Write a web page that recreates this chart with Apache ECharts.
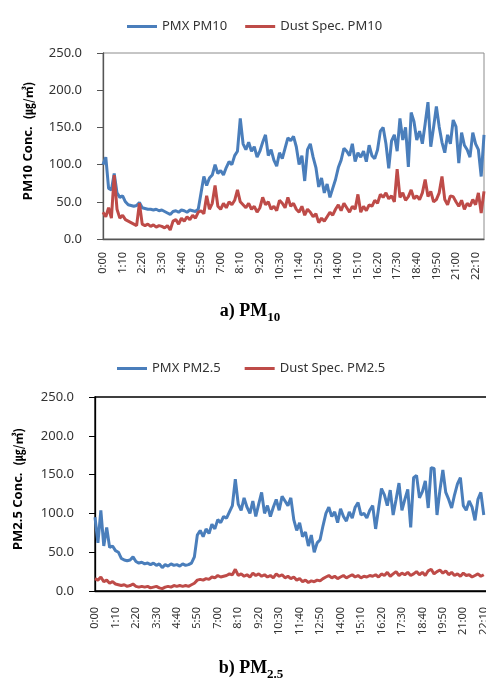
<!DOCTYPE html>
<html>
<head>
<meta charset="utf-8">
<script src="https://cdn.jsdelivr.net/npm/echarts@6/dist/echarts.min.js"></script>
<style>
  html, body { margin: 0; padding: 0; background: #fff; }
  #chart { width: 486px; height: 678px; }
</style>
</head>
<body>
<div id="chart"></div>
<script>
// 10-minute samples
const pmxPM10 = [
  100, 110, 68, 66, 88, 62, 56, 58, 50, 46, 45, 44, 45, 49, 42, 41, 40, 40, 39, 40,
  38, 39, 37, 35, 33, 37, 38, 36, 39, 38, 36, 39, 38, 37, 40, 62, 84, 72, 82, 86,
  100, 88, 92, 86, 96, 104, 100, 112, 118, 162, 128, 120, 130, 118, 124, 110, 118, 130, 140, 112,
  120, 106, 98, 116, 108, 122, 136, 132, 138, 124, 100, 112, 78, 120, 128, 110, 96, 70, 82, 62,
  74, 56, 68, 80, 96, 106, 122, 118, 112, 128, 104, 116, 110, 118, 104, 126, 112, 108, 120, 145,
  150, 128, 95, 132, 140, 118, 162, 133, 150, 97, 170, 158, 133, 145, 128, 155, 184, 124, 150, 178,
  151, 130, 116, 140, 128, 160, 151, 102, 143, 126, 120, 110, 143, 128, 120, 84, 140
];
const dustPM10 = [
  36, 30, 42, 28, 86, 40, 28, 32, 26, 24, 22, 20, 18, 48, 20, 18, 20, 17, 19, 16,
  18, 17, 15, 18, 12, 24, 26, 20, 28, 24, 30, 26, 32, 28, 36, 38, 34, 58, 40, 48,
  72, 44, 40, 48, 42, 50, 46, 52, 66, 50, 46, 42, 48, 40, 44, 36, 42, 56, 46, 50,
  40, 44, 38, 52, 48, 42, 56, 44, 48, 40, 36, 44, 32, 40, 36, 30, 34, 22, 28, 24,
  30, 36, 32, 40, 46, 38, 48, 42, 36, 44, 40, 60, 36, 44, 38, 46, 44, 52, 48, 60,
  56, 62, 54, 58, 50, 94, 56, 62, 52, 57, 66, 54, 58, 53, 62, 80, 57, 64, 50, 53,
  62, 84, 53, 46, 58, 57, 50, 44, 52, 40, 48, 44, 53, 46, 62, 35, 64
];
const pmxPM25 = [
  95, 62, 104, 58, 82, 56, 58, 52, 50, 42, 40, 39, 40, 44, 38, 36, 37, 35, 36, 34,
  36, 33, 35, 30, 34, 32, 35, 33, 34, 32, 35, 33, 34, 36, 44, 72, 78, 70, 80, 74,
  86, 80, 92, 88, 96, 94, 102, 110, 144, 112, 104, 120, 108, 100, 116, 96, 112, 127, 100, 110,
  96, 108, 118, 104, 122, 116, 110, 120, 92, 78, 88, 70, 76, 58, 72, 50, 62, 66, 84, 100,
  108, 96, 102, 88, 106, 96, 90, 102, 94, 108, 114, 98, 100, 94, 104, 110, 80, 106, 132, 124,
  110, 130, 98, 118, 139, 104, 118, 131, 82, 146, 149, 120, 128, 142, 107, 159, 158, 98, 130, 156,
  127, 118, 107, 124, 138, 146, 110, 104, 116, 108, 91, 118, 127, 98
];
const dustPM25 = [
  16, 14, 18, 12, 14, 10, 12, 9, 8, 7, 8, 6, 7, 9, 6, 5, 6, 5, 6, 4,
  5, 6, 4, 3, 5, 6, 5, 7, 6, 7, 6, 7, 6, 8, 10, 14, 15, 14, 16, 15,
  18, 17, 20, 18, 19, 20, 22, 21, 28, 20, 22, 19, 21, 18, 23, 20, 22, 19, 21, 18,
  20, 17, 22, 19, 21, 17, 19, 16, 18, 14, 16, 12, 14, 11, 13, 12, 14, 13, 16, 18,
  20, 17, 19, 16, 18, 20, 17, 19, 21, 18, 20, 17, 19, 18, 20, 19, 21, 18, 22, 20,
  24, 19, 22, 25, 20, 23, 21, 24, 20, 22, 25, 21, 24, 20, 26, 28, 22, 25, 27, 23,
  26, 21, 24, 20, 22, 19, 23, 20, 21, 18, 20, 22, 19, 21
];

// axis: 10-minute steps from 0:00
function makeTimes(n) {
  const out = [];
  for (let i = 0; i < n; i++) {
    const m = i * 10;
    out.push(Math.floor(m / 60) + ':' + String(m % 60).padStart(2, '0'));
  }
  return out;
}
const timesA = makeTimes(137);
const timesB = makeTimes(144);

const BLUE = '#4A7EBB';
const RED = '#BE4B48';
const FONT = '"Noto Sans", "Noto Sans CJK KR", sans-serif';
const CJK = '"Noto Sans CJK KR", sans-serif';

function yAxisOpt(gridIndex, lineColor) {
  return {
    type: 'value', gridIndex: gridIndex, min: 0, max: 250, interval: 50,
    axisLine: { show: true, lineStyle: { color: lineColor, width: 1.3 } },
    axisTick: { show: true, inside: false, length: 6, lineStyle: { color: lineColor } },
    splitLine: { show: false },
    axisLabel: {
      margin: 21, color: '#333', fontSize: 13, fontFamily: FONT,
      formatter: v => v.toFixed(1)
    }
  };
}
function xAxisOpt(gridIndex, data, lineColor, margin) {
  return {
    type: 'category', gridIndex: gridIndex, data: data, boundaryGap: false,
    axisLine: { show: true, lineStyle: { color: lineColor, width: 1.3 } },
    axisTick: { show: false },
    axisLabel: {
      interval: 6, rotate: 90, margin: margin, color: '#333',
      fontSize: 11, fontFamily: FONT
    }
  };
}
function yTitle(x, y, main, color) {
  return {
    type: 'text', x: x, y: y, rotation: Math.PI / 2,
    style: {
      text: '{a|' + main + '}{b|(㎍/㎥)}', align: 'center', verticalAlign: 'middle',
      rich: {
        a: { fontFamily: FONT, fontWeight: 'bold', fontSize: 13, color: color },
        b: { fontFamily: CJK, fontWeight: 'bold', fontSize: 12, color: color }
      }
    }
  };
}
function caption(x, y, main, sub) {
  return {
    type: 'text', x: x, y: y,
    style: {
      text: '{m|' + main + '}{s|' + sub + '}', align: 'center', verticalAlign: 'middle',
      rich: {
        m: { fontFamily: '"Liberation Serif", serif', fontWeight: 'bold', fontSize: 18, color: '#000',
             verticalAlign: 'bottom', padding: [0, 0, 4, 0] },
        s: { fontFamily: '"Liberation Serif", serif', fontWeight: 'bold', fontSize: 13, color: '#000',
             verticalAlign: 'bottom' }
      }
    }
  };
}

const chart = echarts.init(document.getElementById('chart'), null, { renderer: 'canvas' });
const option = {
  backgroundColor: '#fff',
  animation: false,
  legend: [
    {
      data: ['PMX PM10', 'Dust Spec. PM10'],
      left: 122, top: 15, itemWidth: 30, itemHeight: 3, itemGap: 18, icon: 'rect',
      textStyle: { color: '#333', fontSize: 13, fontFamily: FONT }
    },
    {
      data: ['PMX PM2.5', 'Dust Spec. PM2.5'],
      left: 112, top: 357, itemWidth: 30, itemHeight: 3, itemGap: 24, icon: 'rect',
      textStyle: { color: '#333', fontSize: 13, fontFamily: FONT }
    }
  ],
  grid: [
    { left: 103, top: 53, width: 381, height: 186, outerBoundsMode: 'none',
      show: true, borderColor: '#8c8c8c', borderWidth: 1 },
    { left: 95, top: 397, width: 418, height: 194, outerBoundsMode: 'none',
      show: true, borderColor: '#000', borderWidth: 1.3 }
  ],
  xAxis: [xAxisOpt(0, timesA, '#555', 13), xAxisOpt(1, timesB, '#000', 16)],
  yAxis: [yAxisOpt(0, '#555'), yAxisOpt(1, '#000')],
  series: [
    { name: 'PMX PM10', type: 'line', xAxisIndex: 0, yAxisIndex: 0, data: pmxPM10,
      showSymbol: false, lineStyle: { color: BLUE, width: 3 }, itemStyle: { color: BLUE } },
    { name: 'Dust Spec. PM10', type: 'line', xAxisIndex: 0, yAxisIndex: 0, data: dustPM10,
      showSymbol: false, lineStyle: { color: RED, width: 3 }, itemStyle: { color: RED } },
    { name: 'PMX PM2.5', type: 'line', xAxisIndex: 1, yAxisIndex: 1, data: pmxPM25,
      showSymbol: false, lineStyle: { color: BLUE, width: 3 }, itemStyle: { color: BLUE } },
    { name: 'Dust Spec. PM2.5', type: 'line', xAxisIndex: 1, yAxisIndex: 1, data: dustPM25,
      showSymbol: false, lineStyle: { color: RED, width: 3 }, itemStyle: { color: RED } }
  ],
  graphic: [
    yTitle(28, 141, 'PM10 Conc.  ', '#111'),
    yTitle(18, 489, 'PM2.5 Conc.  ', '#1a0505'),
    caption(250, 313, 'a) PM', '10'),
    caption(251, 670, 'b) PM', '2.5')
  ]
};
chart.setOption(option);
window.addEventListener('resize', () => chart.resize());
</script>
</body>
</html>
